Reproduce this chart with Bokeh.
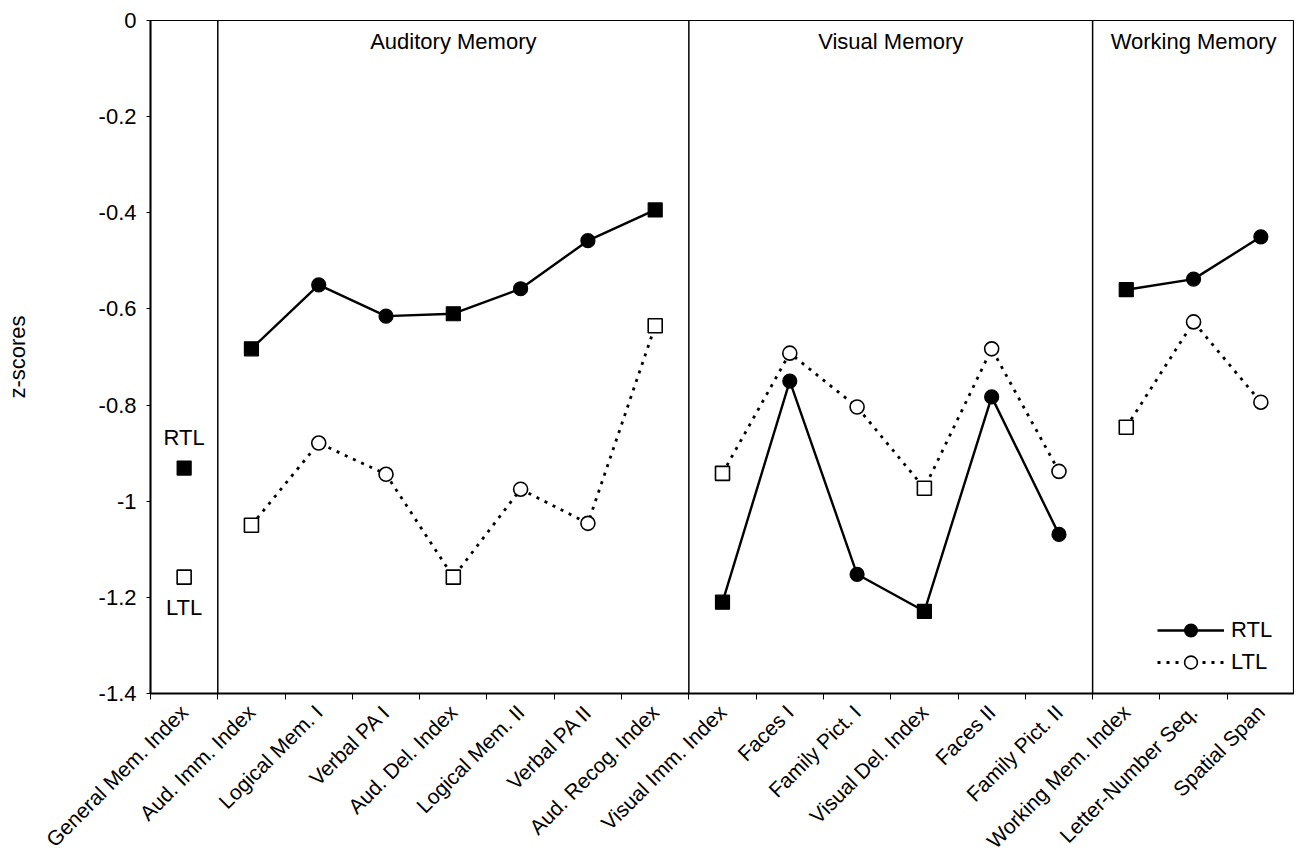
import math
from bokeh.plotting import figure
from bokeh.models import (Range1d, FixedTicker, CustomJSTickFormatter, Span,
                          Legend, LegendItem, ColumnDataSource)
from bokeh.core.properties import value
from bokeh.embed import file_html
from bokeh.resources import INLINE

# ---------------- data ----------------
measures = ["General Mem. Index", "Aud. Imm. Index", "Logical Mem. I", "Verbal PA I",
            "Aud. Del. Index", "Logical Mem. II", "Verbal PA II", "Aud. Recog. Index",
            "Visual Imm. Index", "Faces I", "Family Pict. I", "Visual Del. Index",
            "Faces II", "Family Pict. II", "Working Mem. Index", "Letter-Number Seq.",
            "Spatial Span"]
rtl = [-0.931, -0.683, -0.550, -0.615, -0.610, -0.558, -0.458, -0.394,
       -1.210, -0.750, -1.152, -1.229, -0.783, -1.069, -0.560, -0.538, -0.450]
ltl = [-1.158, -1.050, -0.879, -0.944, -1.158, -0.975, -1.046, -0.635,
       -0.942, -0.692, -0.804, -0.973, -0.683, -0.938, -0.846, -0.627, -0.794]

sections = ["Auditory Memory", "Visual Memory", "Working Memory"]
section_first = ["Aud. Imm. Index", "Visual Imm. Index", "Working Mem. Index"]
section_last = ["Aud. Recog. Index", "Family Pict. II", "Spatial Span"]

y_ticks = [0, -0.2, -0.4, -0.6, -0.8, -1, -1.2, -1.4]
y_labels = ["0", "-0.2", "-0.4", "-0.6", "-0.8", "-1", "-1.2", "-1.4"]

series_names = ["RTL", "LTL"]

# ---------------- derived ----------------
FONT = "Liberation Sans"
FS = "22px"
n = len(measures)
xs = [i + 0.5 for i in range(n)]
is_index = ["Index" in m for m in measures]

idx_src = ColumnDataSource(dict(
    x=[x for x, f in zip(xs, is_index) if f],
    rtl=[v for v, f in zip(rtl, is_index) if f],
    ltl=[v for v, f in zip(ltl, is_index) if f]))
sub_src = ColumnDataSource(dict(
    x=[x for x, f in zip(xs, is_index) if not f],
    rtl=[v for v, f in zip(rtl, is_index) if not f],
    ltl=[v for v, f in zip(ltl, is_index) if not f]))

sec_start = [measures.index(s) for s in section_first]
sec_end = [measures.index(s) for s in section_last]

line_xs, rtl_ys, ltl_ys = [], [], []
for s, e in zip(sec_start, sec_end):
    line_xs.append(xs[s:e + 1])
    rtl_ys.append(rtl[s:e + 1])
    ltl_ys.append(ltl[s:e + 1])

# ---------------- figure ----------------
p = figure(width=1294, height=863, output_backend="svg", toolbar_location=None,
           x_range=Range1d(0, n), y_range=Range1d(-1.4, 0),
           min_border_left=150, min_border_right=0, min_border_top=20,
           min_border_bottom=170)
p.xgrid.visible = False
p.ygrid.visible = False
p.outline_line_color = "black"
p.outline_line_width = 1.2
p.background_fill_color = "white"
p.border_fill_color = "white"

# x axis
p.xaxis.ticker = FixedTicker(ticks=xs, minor_ticks=list(range(n + 1)))
p.xaxis.formatter = CustomJSTickFormatter(args=dict(labels=measures),
                                          code="return labels[Math.floor(tick)];")
p.xaxis.major_label_orientation = math.pi / 4
p.xaxis.major_tick_line_color = None
p.xaxis.major_tick_out = 0
p.xaxis.major_tick_in = 0
p.xaxis.minor_tick_line_color = "black"
p.xaxis.minor_tick_out = 6
p.xaxis.minor_tick_in = 0
p.xaxis.axis_line_width = 2
p.xaxis.axis_line_color = "black"
p.xaxis.major_label_text_font = FONT
p.xaxis.major_label_text_font_size = "21px"
p.xaxis.major_label_text_color = "black"
p.xaxis.major_label_standoff = 9

# y axis
p.yaxis.ticker = FixedTicker(ticks=y_ticks)
p.yaxis.major_label_overrides = {t: l for t, l in zip(y_ticks, y_labels)}
p.yaxis.major_tick_out = 4
p.yaxis.major_tick_in = 0
p.yaxis.minor_tick_line_color = None
p.yaxis.axis_line_width = 2
p.yaxis.axis_line_color = "black"
p.yaxis.major_label_text_font = FONT
p.yaxis.major_label_text_font_size = FS
p.yaxis.major_label_text_color = "black"
p.yaxis.major_label_standoff = 10
p.yaxis.axis_label = "z-scores"
p.yaxis.axis_label_text_font = FONT
p.yaxis.axis_label_text_font_size = FS
p.yaxis.axis_label_text_font_style = "normal"
p.yaxis.axis_label_text_color = "black"
p.yaxis.axis_label_standoff = 66

# section separators and titles
for s in sec_start:
    p.add_layout(Span(location=s, dimension="height", line_color="black", line_width=1.5))
title_src = ColumnDataSource(dict(
    x=[(s + e + 1) / 2 for s, e in zip(sec_start, sec_end)],
    y=[0] * len(sections), text=sections))
p.text(x="x", y="y", text="text", source=title_src, text_align="center",
       text_baseline="top", y_offset=8, text_font=value(FONT),
       text_font_size=FS, text_color="black")

# lines
rtl_line = p.multi_line(xs=line_xs, ys=rtl_ys, line_color="black", line_width=2.4)
ltl_line = p.multi_line(xs=line_xs, ys=ltl_ys, line_color="black", line_width=2.8,
                        line_dash="3 6")

# markers
p.scatter(x="x", y="rtl", source=idx_src, marker="square", size=14,
          fill_color="black", line_color="black", line_width=1.2)
p.scatter(x="x", y="ltl", source=idx_src, marker="square", size=14,
          fill_color="white", line_color="black", line_width=1.6)
rtl_circ = p.scatter(x="x", y="rtl", source=sub_src, marker="circle", size=14,
                     fill_color="black", line_color="black", line_width=1.2)
ltl_circ = p.scatter(x="x", y="ltl", source=sub_src, marker="circle", size=14,
                     fill_color="white", line_color="black", line_width=1.6)

# group labels next to the General Memory point
p.text(x=[xs[0]], y=[rtl[0]], text=[series_names[0]], text_align="center",
       text_baseline="middle", y_offset=-31, text_font=value(FONT),
       text_font_size=FS, text_color="black")
p.text(x=[xs[0]], y=[ltl[0]], text=[series_names[1]], text_align="center",
       text_baseline="middle", y_offset=30, text_font=value(FONT),
       text_font_size=FS, text_color="black")

# legend
legend = Legend(items=[LegendItem(label=series_names[0], renderers=[rtl_line, rtl_circ]),
                       LegendItem(label=series_names[1], renderers=[ltl_line, ltl_circ])],
                location=(1007, 15), glyph_width=67, glyph_height=32, label_height=32,
                spacing=0, padding=0, margin=0, label_standoff=7,
                border_line_color=None, background_fill_alpha=0,
                label_text_font=FONT, label_text_font_size=FS,
                label_text_color="black")
p.add_layout(legend, "center")

open("out.html", "w").write(file_html(p, INLINE))
